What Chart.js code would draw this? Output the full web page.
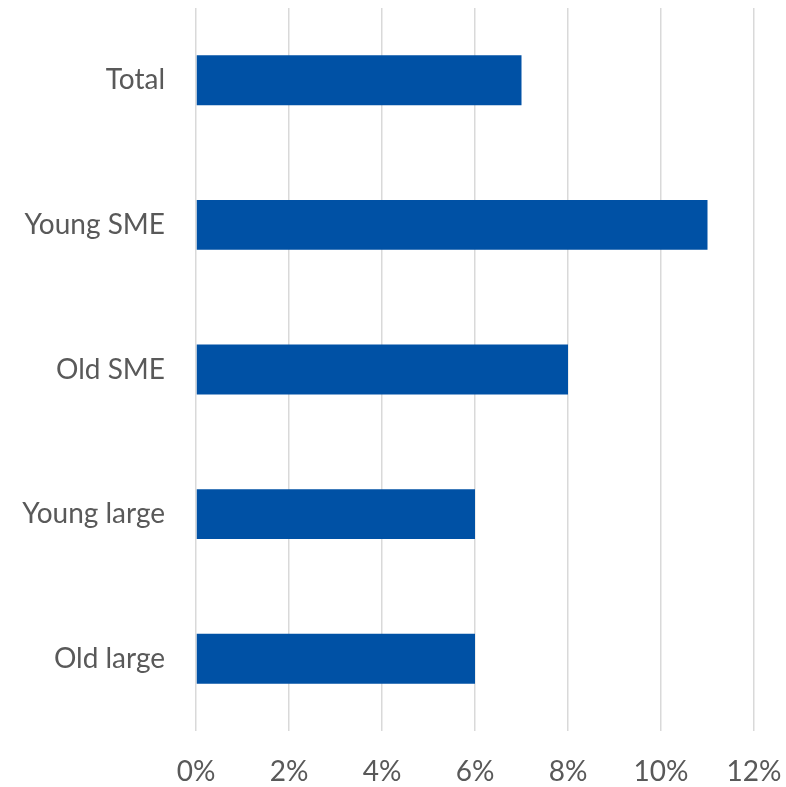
<!DOCTYPE html>
<html>
<head>
<meta charset="utf-8">
<script src="https://cdn.jsdelivr.net/npm/chart.js@4/dist/chart.umd.min.js"></script>
<style>
html,body{margin:0;padding:0;background:#fff;}
#wrap{width:786px;height:787px;}
</style>
</head>
<body>
<div id="wrap"><canvas id="c" width="786" height="787"></canvas></div>
<script>
const categories = ["Total", "Young SME", "Old SME", "Young large", "Old large"];
const values = [7, 11, 8, 6, 6];
const xTicks = [0, 2, 4, 6, 8, 10, 12];

const FONT = "Lato, 'Open Sans', sans-serif";
new Chart(document.getElementById('c'), {
  type: 'bar',
  data: {
    labels: categories,
    datasets: [{
      data: values,
      backgroundColor: '#0051A5',
      borderWidth: 0,
      categoryPercentage: 1,
      barPercentage: 0.345
    }]
  },
  options: {
    indexAxis: 'y',
    responsive: false,
    animation: false,
    devicePixelRatio: 1,
    layout: { padding: { top: 8, right: 32, left: 0, bottom: 0 } },
    plugins: { legend: { display: false }, tooltip: { enabled: false } },
    scales: {
      x: {
        min: 0, max: 12,
        afterBuildTicks: (s) => { s.ticks = xTicks.map(v => ({ value: v })); },
        ticks: {
          callback: (v) => v + '%',
          color: '#595959',
          font: { family: FONT, size: 28 },
          padding: 24,
          maxRotation: 0
        },
        grid: { color: '#d9d9d9', lineWidth: 1.5, drawTicks: false },
        border: { display: false },
        afterFit: (s) => { s.height = 56; s.paddingLeft = 0; s.paddingRight = 0; }
      },
      y: {
        ticks: {
          color: '#595959',
          font: { family: FONT, size: 28 },
          padding: 31
        },
        grid: { display: false, drawTicks: false },
        border: { display: false },
        afterFit: (s) => { s.width = 196; s.paddingTop = 0; s.paddingBottom = 0; }
      }
    }
  }
});
</script>
</body>
</html>
